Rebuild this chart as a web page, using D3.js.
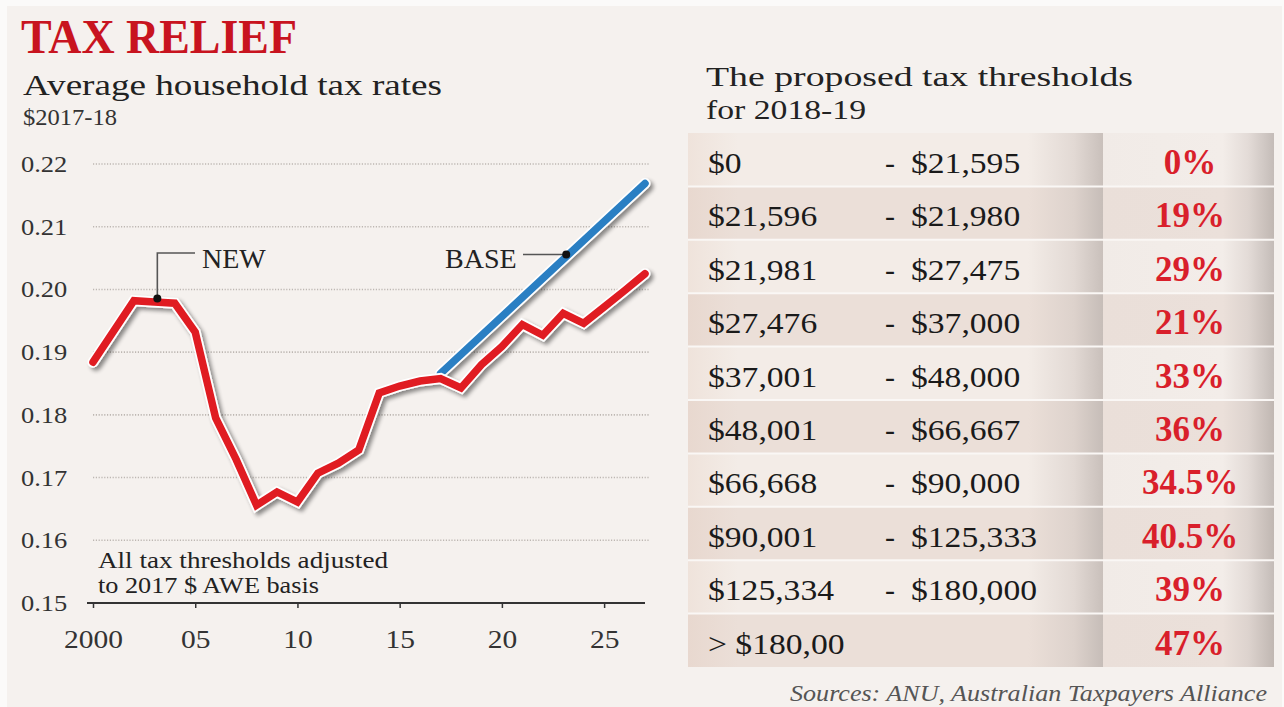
<!DOCTYPE html>
<html><head><meta charset="utf-8">
<script src="https://cdn.jsdelivr.net/npm/d3@7"></script>
<style>
body{margin:0;background:#fff;}
svg{display:block;font-family:"Liberation Serif","Times New Roman",serif;}
</style>
</head><body>
<svg id="c" width="1284" height="707"></svg>
<script>
// ---------- DATA ----------
const years = [2000,2001,2002,2003,2004,2005,2006,2007,2008,2009,2010,2011,2012,2013,
               2014,2015,2016,2017,2018,2019,2020,2021,2022,2023,2024,2025,2026,2027];
const newRates = [0.1884,0.1933,0.1982,0.1980,0.1978,0.1932,0.1795,0.1729,0.1656,0.1677,
                  0.1661,0.1707,0.1723,0.1744,0.1835,0.1846,0.1854,0.1858,0.1843,0.1880,
                  0.1909,0.1944,0.1927,0.1962,0.1946,0.1972,0.1998,0.2025];
const baseYears = [2017, 2027];
const baseRates = [0.1866, 0.2169];
const yTicks = [0.15,0.16,0.17,0.18,0.19,0.20,0.21,0.22];
const yTickLabels = ["0.15","0.16","0.17","0.18","0.19","0.20","0.21","0.22"];
const xTicks = [2000,2005,2010,2015,2020,2025];
const xTickLabels = ["2000","05","10","15","20","25"];
const bracketFrom = ["$0","$21,596","$21,981","$27,476","$37,001","$48,001","$66,668","$90,001","$125,334","> $180,00"];
const bracketTo   = ["$21,595","$21,980","$27,475","$37,000","$48,000","$66,667","$90,000","$125,333","$180,000",""];
const bracketRate = ["0%","19%","29%","21%","33%","36%","34.5%","40.5%","39%","47%"];

// ---------- SETUP ----------
const svg = d3.select("#c");
const RED = "#e01b22", BLUE = "#2b7fc3", TITLE_RED = "#c8141f", PCT_RED = "#d91f2b";

const defs = svg.append("defs");
const f = defs.append("filter").attr("id","shadow").attr("x","-10%").attr("y","-10%").attr("width","130%").attr("height","130%");
f.append("feGaussianBlur").attr("in","SourceAlpha").attr("stdDeviation",2.2).attr("result","b");
f.append("feOffset").attr("in","b").attr("dx",2.5).attr("dy",3).attr("result","o");
f.append("feComponentTransfer").attr("in","o").attr("result","s")
  .append("feFuncA").attr("type","linear").attr("slope",0.45);
const fm = f.append("feMerge");
fm.append("feMergeNode").attr("in","s");
fm.append("feMergeNode").attr("in","SourceGraphic");

function grad(id, stops){
  const g = defs.append("linearGradient").attr("id",id).attr("x1","0").attr("x2","1").attr("y1","0").attr("y2","0");
  stops.forEach(s=>g.append("stop").attr("offset",s[0]).attr("stop-color",s[1]));
}
grad("lLight",[[0,"#efe3db"],[0.12,"#f3ece7"],[0.82,"#f3ece7"],[0.93,"#e2d9d4"],[1,"#c9c0bb"]]);
grad("lDark", [[0,"#e8d8cf"],[0.12,"#ebdfd8"],[0.82,"#ebdfd8"],[0.93,"#ddd2cc"],[1,"#c6bdb8"]]);
grad("rLight",[[0,"#f1ebe7"],[0.7,"#f3ede9"],[0.85,"#e3dbd7"],[1,"#c4bcb8"]]);
grad("rDark", [[0,"#eadfd9"],[0.7,"#ebe0da"],[0.85,"#ddd3ce"],[1,"#c0b7b2"]]);

// background panel
svg.append("rect").attr("x",0).attr("y",0).attr("width",1284).attr("height",707).attr("fill","#fbfaf9");
svg.append("rect").attr("x",7).attr("y",6).attr("width",1275).attr("height",701).attr("fill","#f5f1ee");

function fit(t, w){ t.attr("textLength", w).attr("lengthAdjust","spacingAndGlyphs"); return t; }
function stretch(t, k){ const w = t.node().getComputedTextLength(); return fit(t, w*k); }

// ---------- TITLES ----------
fit(svg.append("text").attr("x",21).attr("y",53).attr("font-size",48).attr("font-weight","bold")
   .attr("fill",TITLE_RED).text("TAX RELIEF"), 276);
fit(svg.append("text").attr("x",23).attr("y",95).attr("font-size",30).attr("fill","#222")
   .text("Average household tax rates"), 419);
fit(svg.append("text").attr("x",23).attr("y",125).attr("font-size",23).attr("fill","#333")
   .text("$2017-18"), 94);

// ---------- CHART ----------
const x = d3.scaleLinear().domain([2000,2027]).range([93,645]);
const y = d3.scaleLinear().domain([0.15,0.22]).range([603,164]);

// gridlines
svg.append("g").selectAll("line").data(yTicks.filter(d=>d>0.15)).join("line")
  .attr("x1",x(2000)).attr("x2",x(2027)+5).attr("y1",d=>y(d)).attr("y2",d=>y(d))
  .attr("stroke","#bdb7b2").attr("stroke-width",1.6).attr("stroke-dasharray","1.2,1.6");

// y labels
yTicks.forEach((v,i)=>{
  const t = svg.append("text").attr("x",21).attr("y",y(v)+8).attr("font-size",23).attr("fill","#333").text(yTickLabels[i]);
  stretch(t,1.15);
});

// x axis
const xAxis = d3.axisBottom(x).tickValues(xTicks).tickSize(5).tickFormat((d,i)=>xTickLabels[i]);
const gx = svg.append("g").attr("transform","translate(0,603)").call(xAxis);
gx.select(".domain").remove();
gx.selectAll(".tick line").attr("stroke","#333").attr("stroke-width",1.5);
gx.selectAll(".tick text").attr("font-size",25).attr("fill","#333").attr("y",45).attr("dy",0)
  .attr("font-family","'Liberation Serif',serif")
  .each(function(){ stretch(d3.select(this),1.18); });
svg.append("line").attr("x1",x(2000)-6).attr("x2",x(2027)).attr("y1",603).attr("y2",603)
  .attr("stroke","#333").attr("stroke-width",2);

// note
fit(svg.append("text").attr("x",98).attr("y",568).attr("font-size",24).attr("fill","#222")
  .text("All tax thresholds adjusted"), 290);
fit(svg.append("text").attr("x",98).attr("y",593).attr("font-size",24).attr("fill","#222")
  .text("to 2017 $ AWE basis"), 221);

// lines
const line = d3.line().x(d=>x(d[0])).y(d=>y(d[1]));
const newData = years.map((yr,i)=>[yr,newRates[i]]);
const baseData = baseYears.map((yr,i)=>[yr,baseRates[i]]);
function drawSeries(data, color){
  const g = svg.append("g").attr("filter","url(#shadow)");
  g.append("path").attr("d",line(data)).attr("fill","none").attr("stroke","#fff")
    .attr("stroke-width",11).attr("stroke-linejoin","miter").attr("stroke-linecap","round");
  g.append("path").attr("d",line(data)).attr("fill","none").attr("stroke",color)
    .attr("stroke-width",7.5).attr("stroke-linejoin","miter").attr("stroke-linecap","round");
}
drawSeries(baseData, BLUE);
drawSeries(newData, RED);

// annotations
const newIdx = years.indexOf(2003);
const nx = x(2003)+3, ny = y(newRates[newIdx])-3.5;
svg.append("path").attr("d",`M${nx},${ny} V${253} H${195}`).attr("fill","none").attr("stroke","#555").attr("stroke-width",1.6);
svg.append("circle").attr("cx",nx).attr("cy",ny).attr("r",4).attr("fill","#111");
svg.append("text").attr("x",202).attr("y",268).attr("font-size",28).attr("fill","#222").text("NEW");

const by = d3.scaleLinear().domain(baseYears).range(baseRates);
const bxv = x(2023)+3, byv = y(by(2023))-5;
svg.append("line").attr("x1",523).attr("x2",bxv).attr("y1",byv).attr("y2",byv).attr("stroke","#555").attr("stroke-width",1.6);
svg.append("circle").attr("cx",bxv).attr("cy",byv).attr("r",4).attr("fill","#111");
svg.append("text").attr("x",445).attr("y",268).attr("font-size",28).attr("fill","#222").text("BASE");

// ---------- TABLE ----------
fit(svg.append("text").attr("x",706).attr("y",86).attr("font-size",28).attr("fill","#222")
  .text("The proposed tax thresholds"), 427);
fit(svg.append("text").attr("x",706).attr("y",119).attr("font-size",28).attr("fill","#222")
  .text("for 2018-19"), 160);

const rowY = d3.scaleBand().domain(d3.range(bracketFrom.length)).range([133,667]).padding(0);
const tx0 = 688, tDiv = 1103, tx1 = 1274;
const rows = svg.append("g").selectAll("g").data(bracketFrom).join("g")
  .attr("transform",(d,i)=>`translate(0,${rowY(i)})`);
rows.append("rect").attr("x",tx0).attr("width",tDiv-tx0).attr("height",rowY.bandwidth())
  .attr("fill",(d,i)=>i%2===0?"url(#lLight)":"url(#lDark)");
rows.append("rect").attr("x",tDiv).attr("width",tx1-tDiv).attr("height",rowY.bandwidth())
  .attr("fill",(d,i)=>i%2===0?"url(#rLight)":"url(#rDark)");
rows.filter((d,i)=>i>0).append("line").attr("x1",tx0).attr("x2",tx1).attr("y1",0).attr("y2",0)
  .attr("stroke","#faf7f5").attr("stroke-width",2);
rows.append("text").attr("x",708).attr("y",40).attr("font-size",30).attr("fill","#1a1a1a")
  .text(d=>d).each(function(){ stretch(d3.select(this),1.12); });
rows.filter((d,i)=>bracketTo[i]!=="").append("text").attr("x",885).attr("y",40).attr("font-size",30).attr("fill","#1a1a1a").text("-");
rows.append("text").attr("x",911).attr("y",40).attr("font-size",30).attr("fill","#1a1a1a")
  .text((d,i)=>bracketTo[i]).each(function(){ if(this.textContent) stretch(d3.select(this),1.12); });
rows.append("text").attr("x",1190).attr("y",41).attr("font-size",35).attr("font-weight","bold")
  .attr("text-anchor","middle").attr("fill",PCT_RED).text((d,i)=>bracketRate[i]);

// source
fit(svg.append("text").attr("x",790).attr("y",701).attr("font-size",24).attr("font-style","italic")
  .attr("fill","#555").text("Sources: ANU, Australian Taxpayers Alliance"), 477);
</script>
</body></html>
